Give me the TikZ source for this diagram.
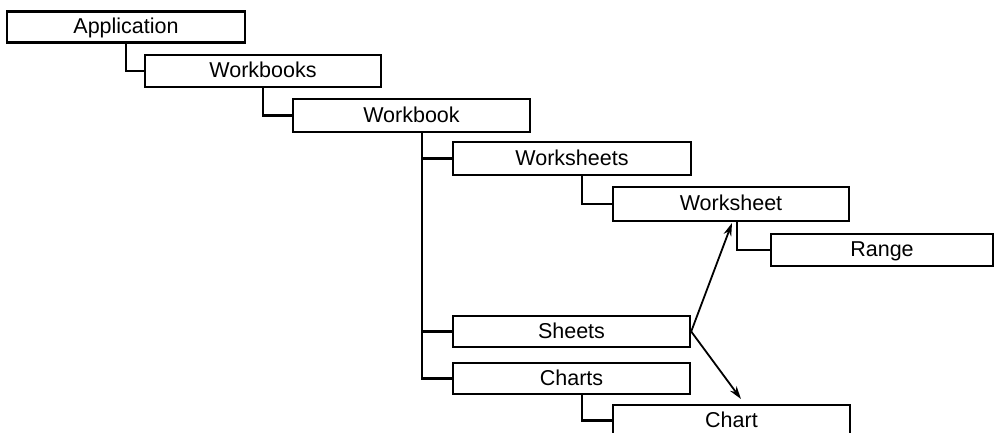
\documentclass[tikz,border=0pt]{standalone}
\usepackage{fontspec}
\setmainfont{Liberation Sans}
\usetikzlibrary{arrows.meta}

\begin{document}
\begin{tikzpicture}[x=1pt,y=-1pt]

          \tikzstyle{objNode} = [draw, line width=2.4pt, rectangle, minimum width=237pt, minimum height=32pt, inner sep=0pt, text height=16pt, text depth=3pt, font=\fontsize{21.5}{24}\selectfont];
          \tikzstyle{treeEdge} = [line width=2.4pt];
          \tikzstyle{linkEdge} = [line width=1.8pt, -{Stealth[length=13pt,width=8pt]}];

          \useasboundingbox (0,0) rectangle (996,432);
          \clip (0,0) rectangle (996,432);

          \node[objNode, minimum width=238pt, minimum height=31pt] (app) at (126,27) {Application};
          \node[objNode, minimum width=236pt] (wbs) at (263,71) {Workbooks};
          \node[objNode, minimum height=33pt] (wb) at (411.5,115.5) {Workbook};
          \node[objNode, minimum width=238pt, minimum height=33pt] (wss) at (572,158.5) {Worksheets};
          \node[objNode, minimum width=236pt, minimum height=34pt] (ws) at (731,204) {Worksheet};
          \node[objNode, minimum width=222pt] (rng) at (882,250) {Range};
          \node[objNode, minimum height=31pt] (sh) at (571.5,331.5) {Sheets};
          \node[objNode, minimum height=31pt] (ch) at (571.5,378.5) {Charts};
          \node[objNode, minimum height=31pt] (chart) at (731.5,420.5) {Chart};

          \coordinate (wsIn) at (732,223);
          \coordinate (chartIn) at (741,399);

          \draw[treeEdge] (app.south) |- (wbs.west);
          \draw[treeEdge] (wbs.south) |- (wb.west);
          \draw[treeEdge] ([xshift=10.5pt]wb.south) |- (wss.west);
          \draw[treeEdge] ([xshift=10.5pt]wb.south) |- (sh.west);
          \draw[treeEdge] ([xshift=10.5pt]wb.south) |- (ch.west);
          \draw[treeEdge] ([xshift=10pt]wss.south) |- (ws.west);
          \draw[treeEdge] ([xshift=6pt]ws.south) |- (rng.west);
          \draw[treeEdge] ([xshift=10.5pt]ch.south) |- (chart.west);
          \draw[linkEdge] (sh.east) -- (wsIn);
          \draw[linkEdge] (sh.east) -- (chartIn);
        \end{tikzpicture}
\end{document}
